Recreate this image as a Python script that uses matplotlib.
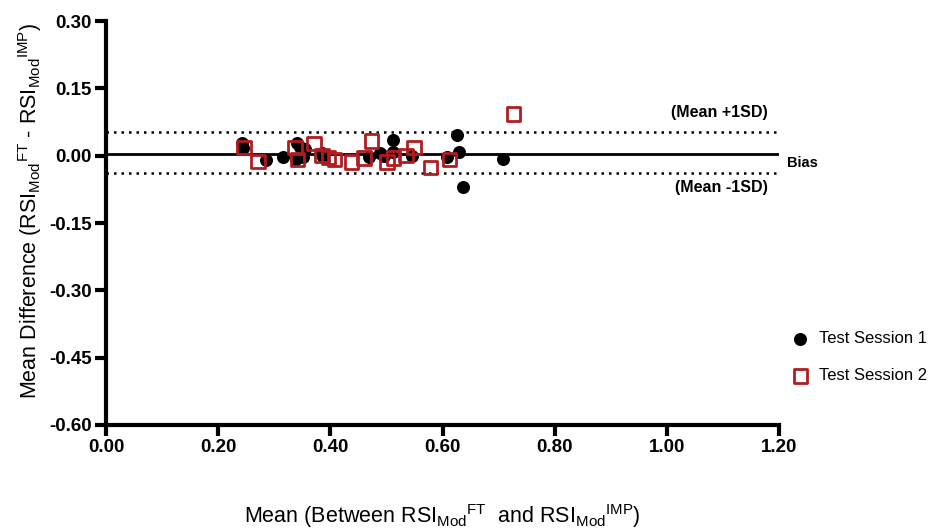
import matplotlib.pyplot as plt

plt.rcParams['font.family'] = ['Liberation Sans', 'DejaVu Sans']
plt.rcParams['mathtext.fontset'] = 'custom'
plt.rcParams['mathtext.rm'] = 'Liberation Sans'
plt.rcParams['mathtext.it'] = 'Liberation Sans:italic'

# Test Session 1 (mean, difference)
s1_mean = [0.243, 0.244, 0.285, 0.316, 0.341, 0.346, 0.355, 0.339, 0.351, 0.385, 0.387,
           0.469, 0.489, 0.496, 0.512, 0.512, 0.546, 0.608, 0.626, 0.629, 0.637, 0.708]
s1_diff = [0.029, 0.018, -0.009, -0.003, 0.028, 0.019, 0.015, -0.007, -0.003, 0.006, -0.003,
           -0.003, 0.006, 0.000, 0.035, 0.008, 0.000, -0.003, 0.046, 0.008, -0.070, -0.007]

# Test Session 2
s2_mean = [0.246, 0.271, 0.337, 0.341, 0.371, 0.385, 0.396, 0.408, 0.437, 0.460, 0.474,
           0.501, 0.512, 0.535, 0.549, 0.578, 0.613, 0.726]
s2_diff = [0.018, -0.013, 0.019, -0.009, 0.028, 0.001, -0.003, -0.008, -0.014, -0.005, 0.033,
           -0.014, -0.005, 0.001, 0.019, -0.027, -0.008, 0.093]

bias = 0.005
upper = 0.053
lower = -0.038

fig = plt.figure(figsize=(9.33, 5.29), dpi=100)
ax = fig.add_axes([0.1136, 0.1966, 0.7214, 0.7634])

ax.axhline(bias, color='black', lw=2)
ax.axhline(upper, color='black', lw=1.8, ls=(0, (1, 2)))
ax.axhline(lower, color='black', lw=1.8, ls=(0, (1, 2)))

ax.scatter(s1_mean, s1_diff, s=70, color='black', zorder=3, label='Test Session 1')
ax.scatter(s2_mean, s2_diff, s=90, marker='s', facecolor='none', edgecolor='#b01c20',
           linewidth=2, zorder=3, label='Test Session 2')

ax.text(1.18, upper + 0.043, '(Mean +1SD)', ha='right', va='center', fontsize=11.5, fontweight='bold')
ax.text(1.18, lower - 0.032, '(Mean -1SD)', ha='right', va='center', fontsize=11.5, fontweight='bold')
ax.text(1.215, bias - 0.022, 'Bias', ha='left', va='center', fontsize=10.5, fontweight='bold',
        clip_on=False)

ax.set_xlim(0, 1.2)
ax.set_ylim(-0.6, 0.3)
ax.set_xticks([0, 0.2, 0.4, 0.6, 0.8, 1.0, 1.2])
ax.set_yticks([0.30, 0.15, 0.0, -0.15, -0.30, -0.45, -0.60])
ax.xaxis.set_major_formatter(plt.FormatStrFormatter('%.2f'))
ax.yaxis.set_major_formatter(plt.FormatStrFormatter('%.2f'))

for s in ['top', 'right']:
    ax.spines[s].set_visible(False)
for s in ['left', 'bottom']:
    ax.spines[s].set_linewidth(3)
ax.tick_params(width=3, length=8, labelsize=13.5, pad=2)
for lab in ax.get_xticklabels() + ax.get_yticklabels():
    lab.set_fontweight('bold')

ax.set_ylabel(r'Mean Difference (RSI$_{\mathrm{Mod}}$$^{\mathrm{FT}}$ - RSI$_{\mathrm{Mod}}$$^{\mathrm{IMP}}$)',
              fontsize=15.5)
ax.yaxis.set_label_coords(-0.092, 0.53)
ax.set_xlabel(r'Mean (Between RSI$_{\mathrm{Mod}}$$^{\mathrm{FT}}$  and RSI$_{\mathrm{Mod}}$$^{\mathrm{IMP}}$)',
              fontsize=15.5, labelpad=33)

ax.legend(loc='upper left', bbox_to_anchor=(1.019, 0.233), frameon=False, fontsize=12,
          borderaxespad=0, borderpad=0, handlelength=1.0, handletextpad=0.6,
          labelspacing=1.35)

fig.savefig('out.png', dpi=100)
